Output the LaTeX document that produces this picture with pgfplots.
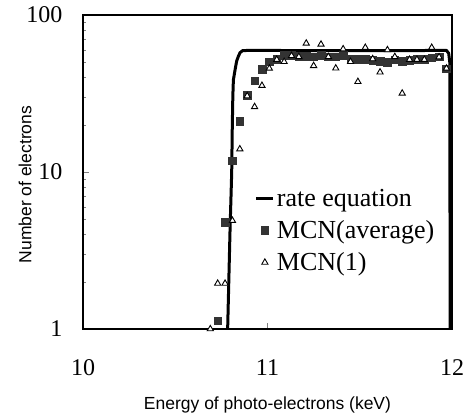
\documentclass[border=0pt]{standalone}
\usepackage{fontspec}
\setmainfont{Liberation Serif}
\newfontfamily\arialfont{Liberation Sans}
\usepackage{pgfplots}
\pgfplotsset{compat=1.18}

\begin{document}
\begin{tikzpicture}
\begin{axis}[
    scale only axis,
    width=369pt, height=314pt,
    xmin=10, xmax=12,
    ymin=1, ymax=100,
    ymode=log,
    xtick={10,11,12},
    ytick={1,10,100},
    yticklabels={1,10,100},
    xtick pos=left, ytick pos=left,
    minor tick num=0,
    major tick length=6pt,
    tick style={gray, thin},
    axis line style={line width=2.4pt},
    /pgf/number format/assume math mode=true,
    tick label style={font=\fontsize{24}{24}\selectfont},
    xticklabel style={yshift=-27pt},
    yticklabel style={xshift=-17pt},
    xlabel={Energy of photo-electrons (keV)},
    ylabel={Number of electrons},
    every axis x label/.style={at={(axis description cs:0.5,0)}, anchor=center, yshift=-76pt, font=\arialfont\fontsize{17.5}{19}\selectfont},
    every axis y label/.style={at={(axis description cs:0,0.46)}, xshift=-58pt, anchor=center, rotate=90, font=\arialfont\fontsize{17.5}{19}\selectfont},
    legend style={at={(rel axis cs:0.457,0.458)}, anchor=north west, draw=none, fill=none,
        font=\fontsize{26}{26}\selectfont, row sep=8.5pt},
    legend cell align=left,
    clip=true,
]
% rate equation
\addplot[black, line width=3pt, line join=round]
  coordinates {
    (10.784,1) (10.797,4.3) (10.806,10) (10.809,19) (10.812,30) (10.815,38.5)
    (10.824,44.6) (10.833,51) (10.842,54.5) (10.851,57.5) (10.865,59.3)
    (10.9,59.5) (11.3,59.3) (11.7,59.3) (11.97,59.5) (11.982,57) (11.988,50) (11.99,1)
  };
\addlegendentry{rate equation}

% MCN(average)
\addplot[only marks, mark=square*, mark size=3.8pt, draw=none,
    mark options={fill=black!80, draw=black!80}]
  coordinates {
    (10.73,1.13) (10.77,4.78) (10.81,11.8) (10.85,21) (10.89,30.9)
    (10.93,38.2) (10.97,45.3) (11.01,50.4) (11.05,52.5) (11.09,55.6)
    (11.13,55.6) (11.17,54.8) (11.21,54.6) (11.25,54.2) (11.29,55.6)
    (11.33,54.2) (11.37,54.2) (11.41,55.6) (11.45,52.5) (11.49,52.5)
    (11.53,52.5) (11.57,51.7) (11.61,50.6) (11.65,49.9) (11.69,52)
    (11.73,50.8) (11.77,51.7) (11.81,52.5) (11.85,52.5) (11.89,53.5)
    (11.93,54.2) (11.97,45.5)
  };
\addlegendentry{MCN(average)}

% MCN(1)
\addplot[only marks, mark=triangle*, mark size=3.6pt, draw=none,
    mark options={fill=white, draw=black, line width=0.9pt}]
  coordinates {
    (10.69,1.0) (10.73,1.95) (10.77,1.95) (10.81,4.9) (10.85,14)
    (10.89,30.5) (10.93,26) (10.97,35.5) (11.01,45.7) (11.05,52)
    (11.09,50.4) (11.13,55) (11.17,54.2) (11.21,66) (11.25,47.5)
    (11.29,65) (11.33,54.2) (11.37,45.8) (11.41,60.7) (11.45,50.4)
    (11.49,37.6) (11.53,62) (11.57,52.5) (11.61,43.2) (11.65,59.9)
    (11.69,54.2) (11.73,31.7) (11.77,52) (11.81,52) (11.85,52)
    (11.89,62) (11.93,54) (11.97,45.7)
  };
\addlegendentry{MCN(1)}
\end{axis}
\pgfresetboundingbox
\path (-83pt,-90pt) rectangle (387pt,329pt);
\end{tikzpicture}
\end{document}
